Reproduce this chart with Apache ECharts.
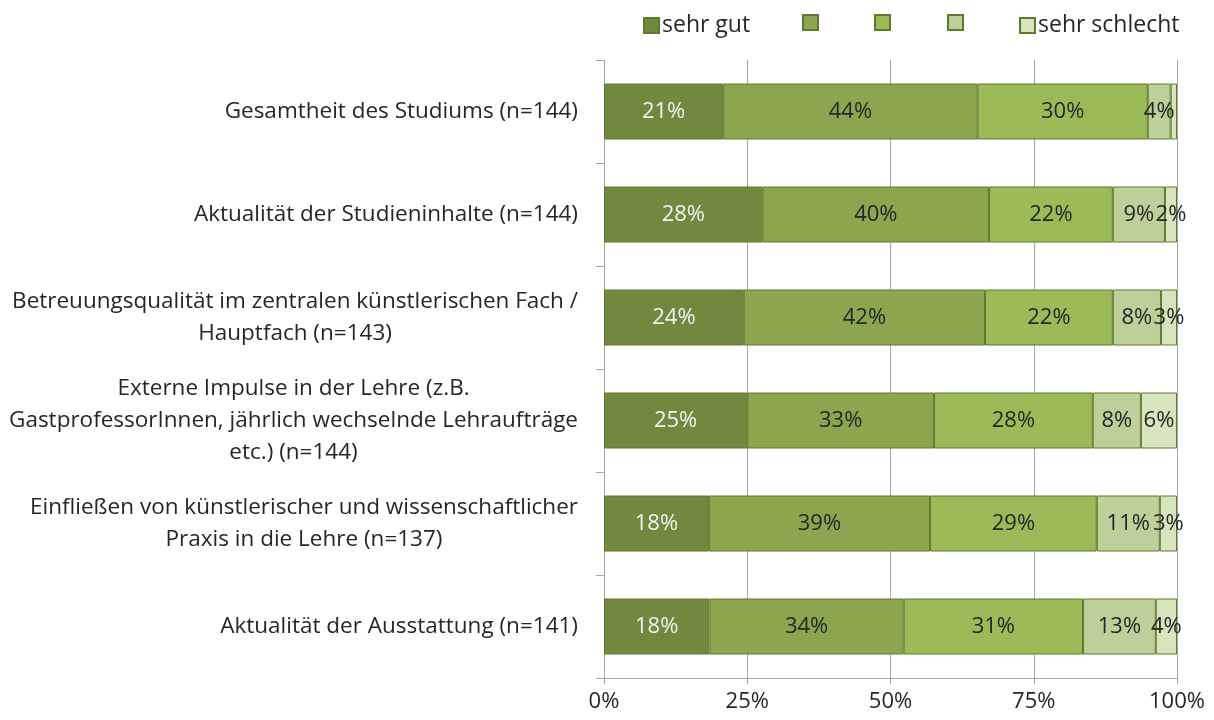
<!DOCTYPE html>
<html>
<head>
<meta charset="utf-8">
<script src="https://cdn.jsdelivr.net/npm/echarts@6/dist/echarts.min.js"></script>
<style>
  html, body { margin: 0; padding: 0; background: #fff; }
  #chart { width: 1214px; height: 720px; }
</style>
</head>
<body>
<div id="chart"></div>
<script>
const categories = [
  "Gesamtheit des Studiums (n=144)",
  "Aktualität der Studieninhalte (n=144)",
  "Betreuungsqualität im zentralen künstlerischen Fach /\nHauptfach (n=143)",
  "Externe Impulse in der Lehre (z.B.\nGastprofessorInnen, jährlich wechselnde Lehraufträge\netc.) (n=144)",
  "Einfließen von künstlerischer und wissenschaftlicher\nPraxis in die Lehre (n=137)",
  "Aktualität der Ausstattung (n=141)"
];

const seriesNames = ["sehr gut", "gut", "mittel", "schlecht", "sehr schlecht"];
const legendText = ["sehr gut", "", "", "", "sehr schlecht"];

const sehrGut = [20.8, 27.7, 24.4, 25.0, 18.3, 18.4];
const gut = [44.4, 39.5, 42.1, 32.6, 38.6, 33.9];
const mittel = [29.7, 21.6, 22.3, 27.7, 29.1, 31.3];
const schlecht = [4.0, 9.1, 8.4, 8.4, 11.0, 12.7];
const sehrSchlecht = [1.1, 2.1, 2.8, 6.3, 3.0, 3.7];

const xTicks = [0, 25, 50, 75, 100];

const values = [sehrGut, gut, mittel, schlecht, sehrSchlecht];
const colors = ["#71893F", "#8BA64F", "#9BBB59", "#BDD09A", "#D7E4BD"];
const labelColors = ["#F2F2F2", "#262626", "#262626", "#262626", "#262626"];
const legendLeft = [643, 802, 874, 947, 1019];

const font = "'Open Sans', 'Noto Sans', sans-serif";
const fs = 22;

const chart = echarts.init(document.getElementById("chart"));

const option = {
  animation: false,
  textStyle: { fontFamily: font },
  legend: seriesNames.map((name, i) => ({
    data: [name],
    left: legendLeft[i],
    top: 14,
    icon: "rect",
    itemWidth: 15,
    itemHeight: 15,
    itemGap: 0,
    padding: 0,
    selectedMode: false,
    formatter: () => legendText[i],
    textStyle: { fontSize: 23, color: "#262626", fontFamily: font, padding: [0, 0, 0, -2] }
  })),
  grid: { left: 604, right: 37, top: 60, bottom: 42 },
  xAxis: {
    type: "value",
    min: xTicks[0],
    max: xTicks[xTicks.length - 1],
    interval: 25,
    axisLine: { show: true, lineStyle: { color: "#A6A6A6", width: 1 } },
    axisTick: { show: true, length: 6, lineStyle: { color: "#A6A6A6" } },
    splitLine: { show: true, lineStyle: { color: "#A6A6A6", width: 1 } },
    axisLabel: {
      formatter: "{value}%",
      fontSize: fs,
      color: "#262626",
      margin: 13,
      fontFamily: font
    }
  },
  yAxis: {
    type: "category",
    inverse: true,
    data: categories,
    axisLine: { show: true, lineStyle: { color: "#A6A6A6", width: 1 } },
    axisTick: { show: true, length: 8, lineStyle: { color: "#A6A6A6" } },
    axisLabel: {
      margin: 26,
      fontSize: 22.5,
      color: "#262626",
      lineHeight: 32,
      fontFamily: font,
      formatter: (v) => v.split("\n").map((l) => "{c|" + l + "}").join("\n"),
      rich: {
        c: { align: "center", fontSize: 22.5, lineHeight: 32, color: "#262626", fontFamily: font }
      }
    }
  },
  series: seriesNames.map((name, i) => ({
    name: name,
    type: "bar",
    stack: "total",
    barWidth: 56,
    data: values[i],
    itemStyle: { color: colors[i], borderColor: "#5F7A2E", borderWidth: 1 },
    label: {
      show: true,
      position: "inside",
      fontSize: fs,
      fontFamily: font,
      color: labelColors[i],
      formatter: (p) => (p.value < 1.5 ? "" : Math.round(p.value) + "%")
    }
  }))
};

chart.setOption(option);
</script>
</body>
</html>
